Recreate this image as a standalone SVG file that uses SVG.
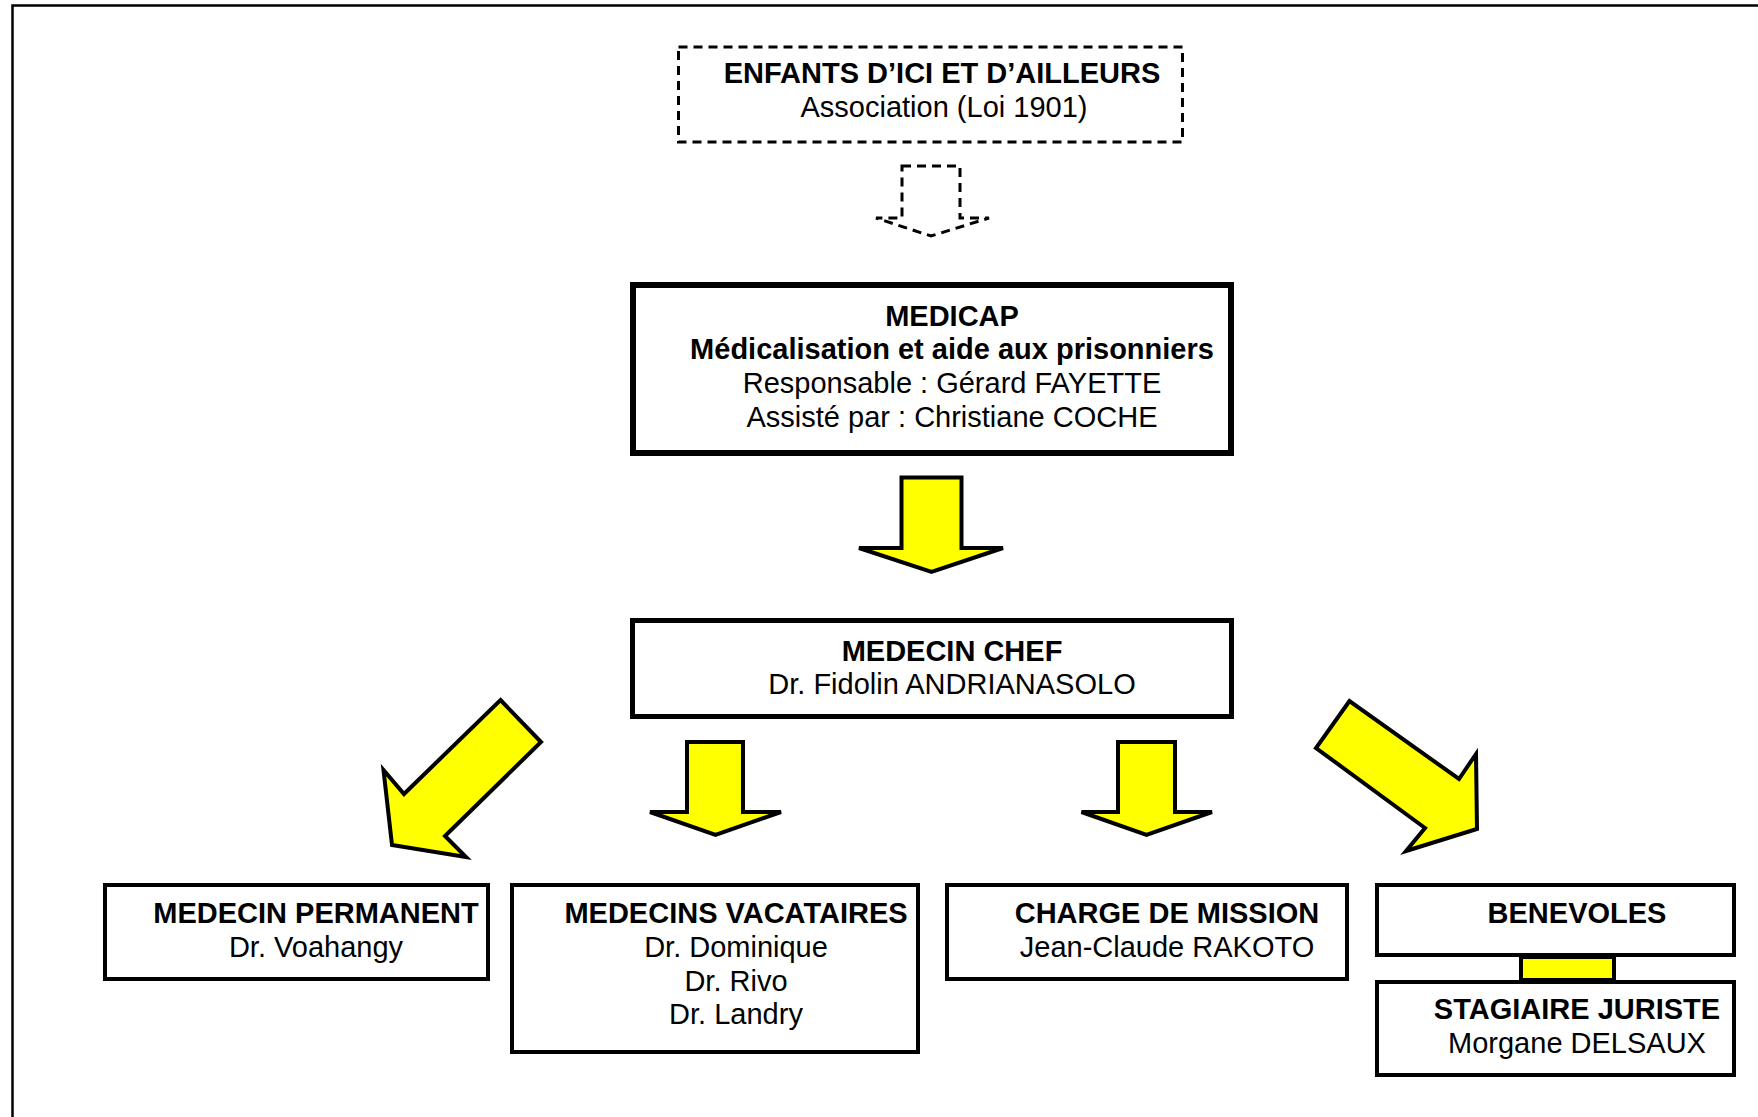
<svg xmlns="http://www.w3.org/2000/svg" width="1758" height="1117" viewBox="0 0 1758 1117">
<style>
  .t { font-family: "Liberation Sans", Arial, sans-serif; font-size: 29px; fill: #000; text-anchor: middle; }
  .b { font-weight: bold; }
  .box { fill: #fff; stroke: #000; stroke-width: 4; }
  .thick { stroke-width: 6; }
  .mid { stroke-width: 5; }
  .arrow { fill: #ffff00; stroke: #000; stroke-width: 4; stroke-linejoin: miter; }
  .dash { fill: none; stroke: #000; stroke-width: 3; stroke-dasharray: 9 6; }
</style>
<rect x="0" y="0" width="1758" height="1117" fill="#fff"/>
<rect x="12.5" y="5.5" width="1800" height="1200" fill="none" stroke="#000" stroke-width="2.5"/>

<g id="enfants">
  <rect class="dash" x="678.5" y="47" width="504" height="95"/>
  <text class="t b" x="942" y="83">ENFANTS D’ICI ET D’AILLEURS</text>
  <text class="t" x="944" y="117">Association (Loi 1901)</text>
</g>

<g id="medicap">
  <rect class="box thick" x="633" y="285" width="598" height="168"/>
  <text class="t b" x="952" y="326">MEDICAP</text>
  <text class="t b" x="952" y="358.5">Médicalisation et aide aux prisonniers</text>
  <text class="t" x="952" y="392.5">Responsable : Gérard FAYETTE</text>
  <text class="t" x="952" y="426.5">Assisté par : Christiane COCHE</text>
</g>

<g id="medecin-chef">
  <rect class="box mid" x="632.5" y="620.5" width="599" height="96"/>
  <text class="t b" x="952" y="661">MEDECIN CHEF</text>
  <text class="t" x="952" y="694">Dr. Fidolin ANDRIANASOLO</text>
</g>

<g id="medecin-permanent">
  <rect class="box" x="105" y="885" width="383" height="94"/>
  <text class="t b" x="316" y="923">MEDECIN PERMANENT</text>
  <text class="t" x="316" y="957">Dr. Voahangy</text>
</g>

<g id="medecins-vacataires">
  <rect class="box" x="512" y="885" width="406" height="167"/>
  <text class="t b" x="736" y="923">MEDECINS VACATAIRES</text>
  <text class="t" x="736" y="957">Dr. Dominique</text>
  <text class="t" x="736" y="990.5">Dr. Rivo</text>
  <text class="t" x="736" y="1024">Dr. Landry</text>
</g>

<g id="charge-de-mission">
  <rect class="box" x="947" y="885" width="400" height="94"/>
  <text class="t b" x="1167" y="923">CHARGE DE MISSION</text>
  <text class="t" x="1167" y="957">Jean-Claude RAKOTO</text>
</g>

<g id="benevoles">
  <rect class="box" x="1377" y="885" width="357" height="70"/>
  <text class="t b" x="1577" y="923">BENEVOLES</text>
</g>

<g id="stagiaire-juriste">
  <rect class="box" x="1377" y="982" width="357" height="93"/>
  <text class="t b" x="1577" y="1019">STAGIAIRE JURISTE</text>
  <text class="t" x="1577" y="1053">Morgane DELSAUX</text>
</g>

<g id="connectors">
  <polygon class="dash" points="902,166 960,166 960,218 989,218 931,236 876,218 902,218"/>
  <polygon class="arrow" stroke-width="5" points="901.5,477.5 961.5,477.5 961.5,548 1003,548 931.5,572 859,548 901.5,548"/>
  <polygon class="arrow" points="500.5,700 541,742 445,836 466,857 392,845 383.5,770 404,794"/>
  <polygon class="arrow" points="687,742 743,742 743,812 781,812 715.5,835 650,812 687,812"/>
  <polygon class="arrow" points="1118,742 1175,742 1175,812 1212,812 1146.5,835 1081.5,812 1118,812"/>
  <polygon class="arrow" points="1349.5,701 1316,748 1425,828 1406,851 1477,829 1476,754 1459,779"/>
  <rect class="arrow" x="1521" y="957" width="93" height="23"/>
</g>
</svg>
